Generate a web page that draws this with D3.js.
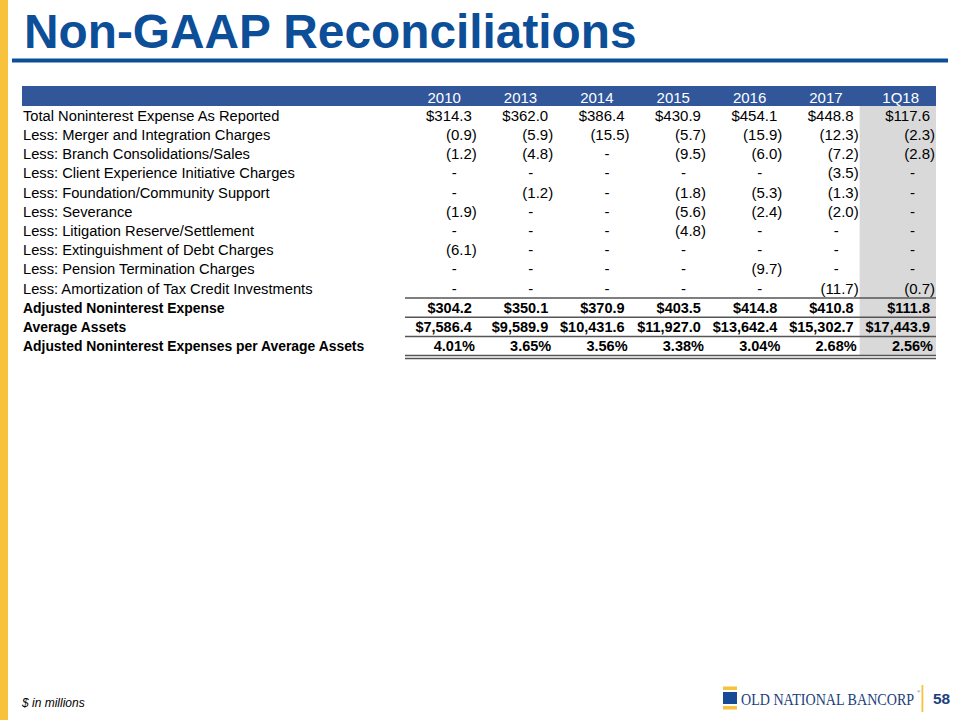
<!DOCTYPE html>
<html>
<head>
<meta charset="utf-8">
<script src="https://cdn.jsdelivr.net/npm/d3@7"></script>
<style>
  html, body { margin: 0; padding: 0; background: #fff; }
  svg { display: block; }
</style>
</head>
<body>
<svg id="chart" width="960" height="720" font-family="Liberation Sans, Arial, sans-serif"></svg>
<script>
// ---- data ----
const years = ["2010", "2013", "2014", "2015", "2016", "2017", "1Q18"];
const rowLabels = [
  "Total Noninterest Expense As Reported",
  "Less: Merger and Integration Charges",
  "Less: Branch Consolidations/Sales",
  "Less: Client Experience Initiative Charges",
  "Less: Foundation/Community Support",
  "Less: Severance",
  "Less: Litigation Reserve/Settlement",
  "Less: Extinguishment of Debt Charges",
  "Less: Pension Termination Charges",
  "Less: Amortization of Tax Credit Investments",
  "Adjusted Noninterest Expense",
  "Average Assets",
  "Adjusted Noninterest Expenses per Average Assets"
];
const totalReported      = [314.3, 362.0, 386.4, 430.9, 454.1, 448.8, 117.6];
const mergerCharges      = [-0.9, -5.9, -15.5, -5.7, -15.9, -12.3, -2.3];
const branchConsol       = [-1.2, -4.8, 0, -9.5, -6.0, -7.2, -2.8];
const clientExperience   = [0, 0, 0, 0, 0, -3.5, 0];
const foundationSupport  = [0, -1.2, 0, -1.8, -5.3, -1.3, 0];
const severance          = [-1.9, 0, 0, -5.6, -2.4, -2.0, 0];
const litigation         = [0, 0, 0, -4.8, 0, 0, 0];
const debtExtinguishment = [-6.1, 0, 0, 0, 0, 0, 0];
const pensionTermination = [0, 0, 0, 0, -9.7, 0, 0];
const taxCreditAmort     = [0, 0, 0, 0, 0, -11.7, -0.7];
const adjustedExpense    = [304.2, 350.1, 370.9, 403.5, 414.8, 410.8, 111.8];
const averageAssets      = [7586.4, 9589.9, 10431.6, 11927.0, 13642.4, 15302.7, 17443.9];
const expenseRatio       = [4.01, 3.65, 3.56, 3.38, 3.04, 2.68, 2.56];

const rowValues = [totalReported, mergerCharges, branchConsol, clientExperience,
  foundationSupport, severance, litigation, debtExtinguishment, pensionTermination,
  taxCreditAmort, adjustedExpense, averageAssets, expenseRatio];
const rowKinds = ["dollar","acct","acct","acct","acct","acct","acct","acct","acct","acct","dollar","dollar","pct"];
const boldRows = [10, 11, 12];

// ---- layout ----
const svg = d3.select("#chart");
const navy = "#0C4E98";
const band = "#31579A";
const yellow = "#F8C23D";

const x = d3.scaleBand().domain(years).range([401.5, 936]);
const y = d3.scaleBand().domain(d3.range(rowLabels.length)).range([106, 106 + 19.2 * rowLabels.length]);
const colRight = yr => x(yr) + x.bandwidth();

// left yellow bar
svg.append("rect").attr("x", 0).attr("y", 0).attr("width", 8).attr("height", 720).attr("fill", yellow);

// title
svg.append("text").attr("x", 24).attr("y", 48)
  .attr("font-size", 47.8).attr("font-weight", "bold").attr("fill", navy)
  .text("Non-GAAP Reconciliations");
svg.append("rect").attr("x", 12).attr("y", 58.5).attr("width", 936).attr("height", 4).attr("fill", navy);

// header band
svg.append("rect").attr("x", 22).attr("y", 86).attr("width", 936 - 22).attr("height", 20).attr("fill", band);
svg.selectAll("text.hdr").data(years).join("text").attr("class", "hdr")
  .attr("x", d => colRight(d) - 17).attr("y", 103.3)
  .attr("text-anchor", "end").attr("font-size", 15).attr("fill", "#fff")
  .text(d => d);

// grey highlight column
const lastYear = years[years.length - 1];
svg.append("rect").attr("x", x(lastYear)).attr("y", 106)
  .attr("width", x.bandwidth()).attr("height", y.range()[1] - 106).attr("fill", "#D9D9D9");

// row labels
svg.selectAll("text.lbl").data(rowLabels).join("text").attr("class", "lbl")
  .attr("x", 23).attr("y", (d, i) => y(i) + y.bandwidth() / 2 + 5.2)
  .attr("font-size", (d, i) => boldRows.includes(i) ? 13.9 : 14.7).attr("fill", "#000")
  .attr("font-weight", (d, i) => boldRows.includes(i) ? "bold" : "normal")
  .text(d => d);

// cells
const f1 = d3.format(",.1f");
const cells = [];
rowValues.forEach((vals, r) => {
  vals.forEach((v, c) => {
    const kind = rowKinds[r];
    let txt, off;
    if (kind === "pct") { txt = d3.format(".2f")(v) + "%"; off = 3; }
    else if (kind === "dollar") { txt = "$" + f1(v); off = 6; }
    else if (v === 0) { txt = "-"; off = 21; }
    else if (v < 0) { txt = "(" + f1(-v) + ")"; off = 1; }
    else { txt = "$" + f1(v); off = 6; }
    cells.push({ r, yr: years[c], txt, off });
  });
});
svg.selectAll("text.cell").data(cells).join("text").attr("class", "cell")
  .attr("x", d => colRight(d.yr) - d.off)
  .attr("y", d => y(d.r) + y.bandwidth() / 2 + 5.2)
  .attr("text-anchor", "end")
  .attr("font-size", d => boldRows.includes(d.r) ? 14.5 : 15).attr("fill", "#000")
  .attr("font-weight", d => boldRows.includes(d.r) ? "bold" : "normal")
  .text(d => d.txt);

// rules
const lineX0 = 405, lineX1 = 936;
[10, 11, 12].forEach(r => {
  svg.append("line").attr("x1", lineX0).attr("x2", lineX1)
    .attr("y1", y(r)).attr("y2", y(r)).attr("stroke", "#555").attr("stroke-width", 1.5);
});
const yBottom = y.range()[1];
[yBottom, yBottom + 2.8].forEach(yy => {
  svg.append("line").attr("x1", lineX0).attr("x2", lineX1)
    .attr("y1", yy).attr("y2", yy).attr("stroke", "#555").attr("stroke-width", 1.5);
});

// footer
svg.append("text").attr("x", 22).attr("y", 707).attr("font-size", 12)
  .attr("font-style", "italic").attr("fill", "#000").text("$ in millions");

// logo
svg.append("rect").attr("x", 723).attr("y", 686.5).attr("width", 14).attr("height", 3.5).attr("fill", yellow);
svg.append("rect").attr("x", 723).attr("y", 692).attr("width", 14).attr("height", 12).attr("fill", "#174A95");
svg.append("rect").attr("x", 723).attr("y", 706).attr("width", 14).attr("height", 3.5).attr("fill", yellow);
svg.append("g").attr("transform", "translate(741,705) scale(0.805,1)")
  .append("text").attr("x", 0).attr("y", 0)
  .style("font-family", "'Liberation Serif', 'DejaVu Serif', serif")
  .attr("font-size", 17.5).attr("fill", "#1D3F7C")
  .text("OLD NATIONAL BANCORP");
svg.append("text").attr("x", 917).attr("y", 692.5)
  .style("font-family", "'Liberation Serif', serif")
  .attr("font-size", 4.5).attr("fill", "#1D3F7C").text("®");
svg.append("rect").attr("x", 921.5).attr("y", 685).attr("width", 1.8).attr("height", 27).attr("fill", yellow);
svg.append("text").attr("x", 933).attr("y", 703.5).attr("font-size", 15.5).attr("font-weight", "bold")
  .attr("fill", "#1D3F7C").text("58");
</script>
</body>
</html>
